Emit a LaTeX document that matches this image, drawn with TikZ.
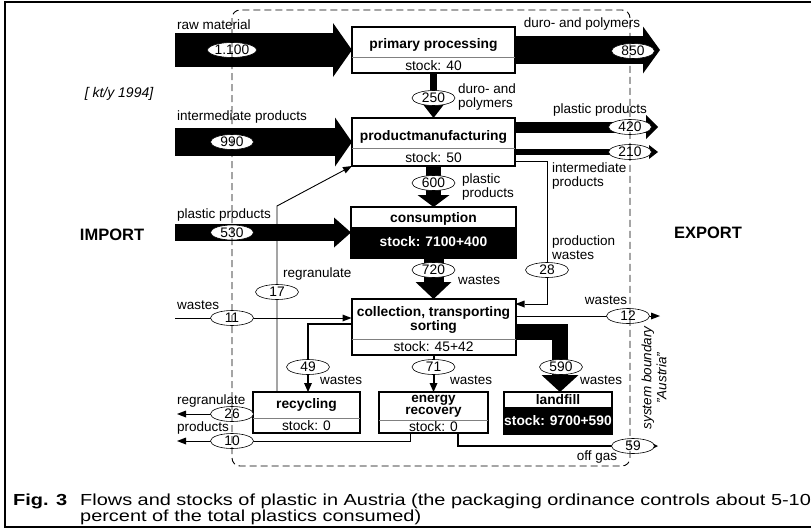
\documentclass[tikz,border=0pt]{standalone}
\usepackage{fontspec}
\setmainfont{Liberation Sans}
\usetikzlibrary{arrows.meta,shapes.geometric}
\begin{document}
\begin{tikzpicture}[x=1pt,y=-1pt,
  box/.style={draw,line width=2pt,fill=white,inner sep=0pt,outer sep=0pt,rectangle},
  lbl/.style={font=\fontsize{13.5}{14}\selectfont,inner sep=0pt,align=left},
  ttl/.style={font=\bfseries\fontsize{13.8}{14}\selectfont,inner sep=0pt,align=center},
  stk/.style={font=\fontsize{13.8}{14}\selectfont,inner sep=0pt},
  num/.style={ellipse,draw,line width=0.6pt,fill=white,minimum width=43pt,minimum height=15pt,inner sep=0pt,font=\fontsize{13.8}{14}\selectfont},
  thinarr/.style={line width=0.9pt,-{Triangle[length=9pt,width=7pt,line width=0pt]}},
  midarr/.style={line width=2pt,-{Triangle[length=9pt,width=8pt,line width=0pt]}},
  dvd/.style={gray,line width=0.5pt},
  bigarr/.style n args={3}{line width=#1,-{Triangle[length=#2,width=#3,line width=0pt]}},
  captxt/.style={anchor=base west,inner sep=0pt},
]
\useasboundingbox (0,0) rectangle (811,530);
\fill[white] (0,0) rectangle (811,530);
% frame
\draw[line width=1.2pt] (811,2) -- (5,2) -- (5,527) -- (811,527);

% boxes
\node[box,minimum width=163pt,minimum height=46pt] (pp) at (433.5,50) {};
\node[box,minimum width=163pt,minimum height=48pt] (pm) at (433.5,142) {};
\node[box,minimum width=165pt,minimum height=51pt] (cons) at (433.5,232.5) {};
\node[box,minimum width=164pt,minimum height=56pt] (coll) at (433.5,327) {};
\node[box,minimum width=107pt,minimum height=41pt] (rec) at (306.5,412.5) {};
\node[box,minimum width=109pt,minimum height=41pt] (en) at (433.5,412.5) {};
\node[box,minimum width=108pt,minimum height=42pt] (lf) at (558,413) {};

\fill (cons.west |- 0,227) rectangle (cons.south east);
\draw[line width=2pt] (cons.north west) rectangle (cons.south east);
\fill (lf.west |- 0,407) rectangle (lf.south east);
\draw[line width=2pt] (lf.north west) rectangle (lf.south east);

\draw[dvd] (pp.west |- 0,57) -- (pp.east |- 0,57);
\draw[dvd] (pm.west |- 0,148) -- (pm.east |- 0,148);
\draw[dvd] (coll.west |- 0,339) -- (coll.east |- 0,339);
\draw[dvd] (rec.west |- 0,418) -- (rec.east |- 0,418);
\draw[dvd] (en.west |- 0,420) -- (en.east |- 0,420);

% box texts
\node[ttl] (ppt) at (433.5,45) {primary processing};
\node[stk] (pps) at (433.5,66) {stock: 40};
\node[ttl] (pmt) at (433.5,137) {productmanufacturing};
\node[stk] (pms) at (433.5,158) {stock: 50};
\node[ttl] (const) at (433.5,219) {consumption};
\node[ttl,text=white] (conss) at (433.5,242) {stock: 7100+400};
\node[ttl] (collt) at (433.5,320) {collection, transporting\\sorting};
\node[stk] (colls) at (433.5,347) {stock: 45+42};
\node[ttl] (rect) at (306.5,405) {recycling};
\node[stk] (recs) at (306.5,426) {stock: 0};
\node[ttl,font=\bfseries\fontsize{13.5}{12}\selectfont] (ent) at (433.5,406) {energy\\recovery};
\node[stk] (ens) at (433.5,427) {stock: 0};
\node[ttl] (lft) at (558,400) {landfill};
\node[ttl,text=white] (lfs) at (558,420.5) {stock: 9700+590};

% big arrows
\coordinate (rawS) at (175,50);
\draw[bigarr={34pt}{19pt}{54pt}] (rawS) -- (pp.west);
\coordinate (duroE) at (660,50);
\draw[bigarr={28pt}{17pt}{47pt}] (pp.east) -- (duroE);
\coordinate (intS) at (175,142);
\draw[bigarr={28pt}{17pt}{49pt}] (intS) -- (pm.west);
\coordinate (e420) at (658,127);
\draw[bigarr={11pt}{12pt}{24pt}] (pm.east |- e420) -- (e420);
\coordinate (e210) at (658,152);
\draw[bigarr={6pt}{9pt}{14pt}] (pm.east |- e210) -- (e210);
\coordinate (s530) at (175,232.5);
\draw[bigarr={17pt}{17pt}{30pt}] (s530) -- (cons.west);
\draw[bigarr={7pt}{13pt}{20pt}] (pp.south) -- (pm.north);
\draw[bigarr={15pt}{12pt}{32pt}] (pm.south) -- (cons.north);
\draw[bigarr={20pt}{17pt}{36pt}] (cons.south) -- (coll.north);
\coordinate (c590) at (560,332);
\draw[bigarr={16pt}{17pt}{37pt}] (coll.east |- c590) -- (c590) -- (lf.north -| c590);

% thin arrows
\coordinate (s11) at (175,318);
\draw[thinarr] (s11) -- (coll.west |- s11);
\coordinate (e12) at (660,316);
\draw[thinarr] (coll.east |- e12) -- (e12);
\coordinate (e26) at (177,414);
\draw[thinarr] (rec.west |- e26) -- (e26);
\coordinate (c10) at (410,441);
\coordinate (e10) at (177,441);
\draw[thinarr] (en.south -| c10) -- (c10) -- (e10);
\coordinate (c28a) at (547,161);
\coordinate (c28b) at (547,304);
\draw[thinarr] (pm.east |- c28a) -- (c28a) -- (c28b) -- (coll.east |- c28b);
\coordinate (c17a) at (277,206);
\draw[thinarr] (rec.north -| c17a) -- (c17a) -- (pm.south west);

% medium arrows
\coordinate (c49) at (308,324);
\draw[midarr] (coll.west |- c49) -- (c49) -- (rec.north -| c49);
\draw[midarr] (coll.south) -- (en.north);
\coordinate (c59a) at (458,446);
\coordinate (e59) at (658,446);
\draw[line width=2.5pt,-{Triangle[length=8pt,width=8pt,line width=0pt]}] (en.south -| c59a) -- (c59a) -- (e59);

% flow values
\node[num] (n1100) at (232,50) {1.100};
\node[num] (n990) at (232,142) {990};
\node[num] (n530) at (232,232.5) {530};
\node[num] (n11) at (232,318) {11};
\node[num] (n26) at (232,414) {26};
\node[num] (n10) at (232,441) {10};
\node[num] (n850) at (633,51) {850};
\node[num] (n420) at (630,127) {420};
\node[num] (n210) at (630,152) {210};
\node[num] (n12) at (628,316) {12};
\node[num] (n59) at (633,446) {59};
\node[num] (n250) at (433.5,98) {250};
\node[num] (n600) at (433.5,183) {600};
\node[num] (n720) at (433.5,270) {720};
\node[num] (n28) at (547,270) {28};
\node[num] (n17) at (277,292) {17};
\node[num] (n49) at (308,367) {49};
\node[num] (n71) at (433.5,367) {71};
\node[num] (n590) at (561,367) {590};

% labels
\node[lbl,anchor=west] (lraw) at (177,25) {raw material};
\node[lbl,font=\itshape\fontsize{14}{14}\selectfont] (lunit) at (119,94) {[ kt/y 1994]};
\node[lbl,anchor=west] (lint) at (177,117) {intermediate products};
\node[lbl,anchor=west] (lpp) at (177,215) {plastic products};
\node[font=\bfseries\fontsize{16.5}{17}\selectfont,inner sep=0pt] (limp) at (112,235) {IMPORT};
\node[font=\bfseries\fontsize{16.5}{17}\selectfont,inner sep=0pt] (lexp) at (708,233) {EXPORT};
\node[lbl,anchor=west] (lreg17) at (283,274) {regranulate};
\node[lbl,anchor=west] (lw11) at (177,305) {wastes};
\node[lbl,anchor=west] (lreg26) at (177,401) {regranulate};
\node[lbl,anchor=west] (lprod10) at (177,428) {products};
\node[lbl] (lduro) at (582,24) {duro- and polymers};
\node[lbl,anchor=west] (lduro2) at (458,97) {duro- and\\polymers};
\node[lbl] (lpp420) at (600,110) {plastic products};
\node[lbl,anchor=west] (lint210) at (552,176) {intermediate\\products};
\node[lbl,anchor=west] (lpp600) at (462,187) {plastic\\products};
\node[lbl,anchor=west] (lpw) at (552,248) {production\\wastes};
\node[lbl,anchor=west] (lw720) at (458,280) {wastes};
\node[lbl] (lw12) at (606,300) {wastes};
\node[lbl,anchor=west] (lw49) at (320,380) {wastes};
\node[lbl,anchor=west] (lw71) at (450,380) {wastes};
\node[lbl,anchor=west] (lw590) at (580,380) {wastes};
\node[lbl] (log) at (597,457) {off gas};
\node[lbl,align=center,rotate=90,font=\itshape\fontsize{13.5}{15}\selectfont] (lsys) at (654,378) {system boundary\\"Austria"};

% system boundary
\draw[dash pattern=on 7pt off 4pt,line width=0.9pt,rounded corners=8pt] (232,10) rectangle (630,466);

% caption
\node[captxt] (figno) at (13,505) {\scalebox{1.25}[1]{\bfseries\fontsize{16}{16}\selectfont Fig. 3}};
\node[captxt] (cap1) at (80,505) {\scalebox{1.245}[1]{\fontsize{16}{16}\selectfont Flows and stocks of plastic in Austria (the packaging ordinance controls about 5-10}};
\node[captxt] (cap2) at (80,521) {\scalebox{1.245}[1]{\fontsize{16}{16}\selectfont percent of the total plastics consumed)}};
\end{tikzpicture}
\end{document}
